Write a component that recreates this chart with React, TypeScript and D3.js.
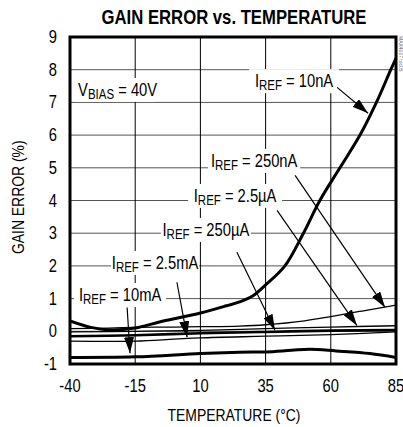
import * as d3 from 'd3'

const W = 403
const H = 427

const xTicks = [-40, -15, 10, 35, 60, 85]
const yTicks = [-1, 0, 1, 2, 3, 4, 5, 6, 7, 8, 9]

// [temperature, gain error %]
const nA10 = [[-40, 0.32], [-32, 0.12], [-25, 0.04], [-15, 0.1], [-5, 0.3], [10, 0.56], [20, 0.78], [25, 0.9], [30, 1.08], [35, 1.42], [42.4, 2], [49.5, 3], [55.8, 4], [63.5, 5], [71.2, 6], [77.5, 7], [83, 8], [85, 8.35]]
const nA250 = [[-40, 0.08], [-25, 0.1], [-15, 0.12], [0, 0.13], [10, 0.14], [25, 0.16], [35, 0.2], [50, 0.32], [60, 0.45], [72, 0.62], [85, 0.8]]
const uA25 = [[-40, -0.02], [-15, 0.0], [10, 0.03], [35, 0.08], [60, 0.13], [85, 0.17]]
const uA250 = [[-40, -0.15], [-15, -0.12], [10, -0.06], [35, -0.02], [60, 0.02], [85, 0.04]]
const mA25 = [[-40, -0.3], [-15, -0.3], [0, -0.24], [10, -0.2], [35, -0.15], [60, -0.1], [85, -0.02]]
const mA10 = [[-40, -0.8], [-15, -0.78], [10, -0.68], [25, -0.64], [35, -0.63], [45, -0.58], [52, -0.55], [62, -0.6], [75, -0.68], [85, -0.8]]

const series = [
  { data: nA250, width: 1.3 },
  { data: uA25, width: 1.3 },
  { data: mA25, width: 1.3 },
  { data: uA250, width: 2.6 },
  { data: mA10, width: 3 },
  { data: nA10, width: 3 },
]

// labels: text, centre (temp, value), box width; arrow from -> tip in data units
const labels = [
  { text: '10nA', t: 45.9, v: 7.65, w: 90, from: [62.4, 7.46], tip: [74.3, 6.67] },
  { text: '250nA', t: 30.6, v: 5.21, w: 92, from: [46.3, 4.77], tip: [80.8, 0.73] },
  { text: '2.5µA', t: 23.3, v: 4.14, w: 94, from: [39.4, 3.7], tip: [70, 0.18] },
  { text: '250µA', t: 12.1, v: 3.1, w: 90, from: [24, 2.42], tip: [38.6, 0.03] },
  { text: '2.5mA', t: -7.4, v: 2.09, w: 88, from: [1, 1.5], tip: [4.9, -0.18] },
  { text: '10mA', t: -20.8, v: 1.11, w: 92, from: [-18.1, 0.73], tip: [-17, -0.67] },
]

const font = "'Liberation Sans', Arial, sans-serif"
const SX = 0.82

// narrow text: Arial metrics squeezed horizontally
const NText = ({ x, y, size, anchor = 'start', children, rotate = 0, sx = SX, weight }: any) => (
  <text
    transform={`translate(${x},${y}) rotate(${rotate}) scale(${sx},1)`}
    textAnchor={anchor}
    fontSize={size}
    fontWeight={weight}
  >
    {children}
  </text>
)

const App = () => {
  const x = d3.scaleLinear().domain([-40, 85]).range([70, 396])
  const y = d3.scaleLinear().domain([-1, 9]).range([364, 37])
  const line = d3
    .line<number[]>()
    .x((d) => x(d[0]))
    .y((d) => y(d[1]))
    .curve(d3.curveCatmullRom)

  return (
    <svg
      width={W}
      height={H}
      style={{ position: 'absolute', left: 0, top: 0, background: '#fff' }}
      fontFamily={font}
    >
      <defs>
        <marker
          id='head'
          viewBox='0 0 16 10'
          refX={16}
          refY={5}
          markerWidth={16}
          markerHeight={10}
          markerUnits='userSpaceOnUse'
          orient='auto'
        >
          <path d='M0,0 L16,5 L0,10 Z' fill='#000' />
        </marker>
        <clipPath id='plot'>
          <rect x={70} y={37} width={326} height={327} />
        </clipPath>
      </defs>

      <NText x={234} y={24} anchor='middle' size={21} sx={0.795} weight='bold'>
        GAIN ERROR vs. TEMPERATURE
      </NText>

      {/* grid */}
      {yTicks.slice(1, -1).map((t) => (
        <line key={'h' + t} x1={70} x2={396} y1={y(t)} y2={y(t)} stroke='#555' strokeWidth={1} />
      ))}
      {xTicks.slice(1, -1).map((t) => (
        <line key={'v' + t} x1={x(t)} x2={x(t)} y1={37} y2={364} stroke='#000' strokeWidth={1} />
      ))}

      {/* label boxes break the grid */}
      <rect x={x(-36.9) - 4} y={y(7.38) - 12} width={80} height={24} fill='#fff' />
      {labels.map((l) => (
        <rect key={'b' + l.text} x={x(l.t) - l.w / 2} y={y(l.v) - 12} width={l.w} height={24} fill='#fff' />
      ))}

      <g clipPath='url(#plot)'>
        {series.map((s, i) => (
          <path key={i} d={line(s.data) || ''} fill='none' stroke='#000' strokeWidth={s.width} />
        ))}
      </g>

      {labels.map((l) => (
        <g key={'l' + l.text}>
          <line
            x1={x(l.from[0])}
            y1={y(l.from[1])}
            x2={x(l.tip[0])}
            y2={y(l.tip[1])}
            stroke='#000'
            strokeWidth={1.2}
            markerEnd='url(#head)'
          />
          <NText x={x(l.t)} y={y(l.v) + 6} anchor='middle' size={18}>
            I<tspan dy={3} fontSize={14}>REF</tspan>
            <tspan dy={-3}> = {l.text}</tspan>
          </NText>
        </g>
      ))}

      <NText x={x(-36.9)} y={y(7.38) + 6} size={18}>
        V<tspan dy={3} fontSize={14}>BIAS</tspan>
        <tspan dy={-3}> = 40V</tspan>
      </NText>

      <rect x={70} y={37} width={326} height={327} fill='none' stroke='#000' strokeWidth={3} />

      {yTicks.map((t) => (
        <NText key={'yt' + t} x={57} y={y(t) + 6} anchor='end' size={18}>
          {t}
        </NText>
      ))}
      {xTicks.map((t) => (
        <NText key={'xt' + t} x={x(t)} y={392} anchor='middle' size={18}>
          {t}
        </NText>
      ))}

      <NText x={234} y={421} anchor='middle' size={17}>
        TEMPERATURE (°C)
      </NText>
      <NText x={24} y={y(4.1)} anchor='middle' size={17} rotate={-90}>
        GAIN ERROR (%)
      </NText>

      <text transform='translate(399, 36) rotate(90)' fontSize={5} fill='#666'>
        MAX4007 toc05
      </text>
    </svg>
  )
}

export default App
